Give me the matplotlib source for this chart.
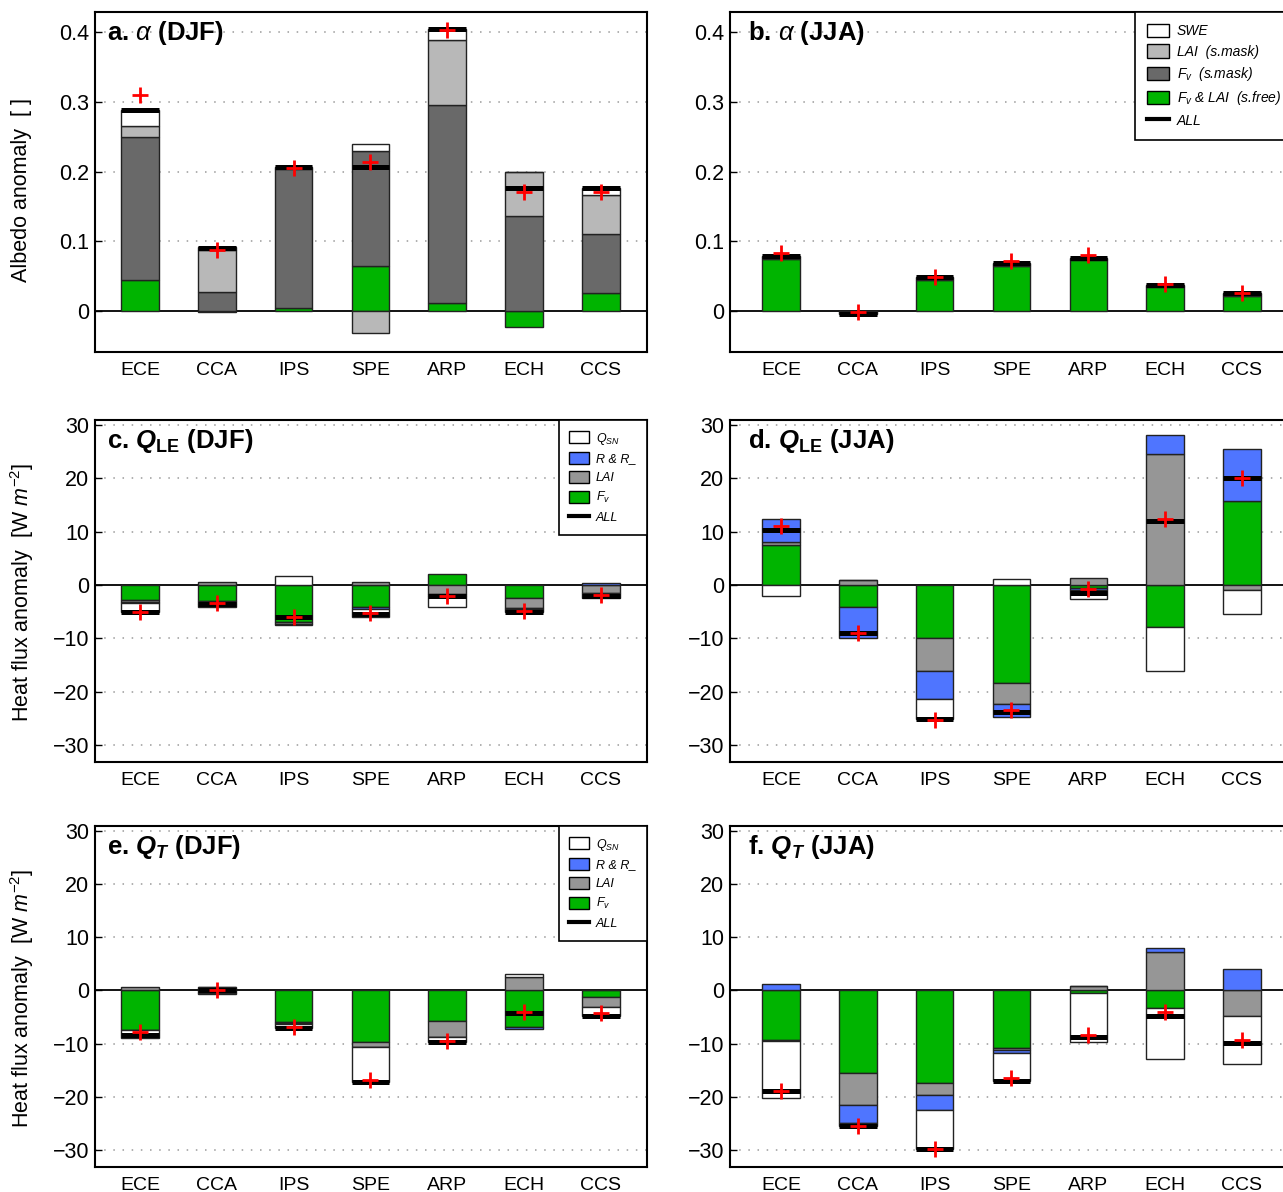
import numpy as np
import matplotlib
matplotlib.use('Agg')
import matplotlib.pyplot as plt
from matplotlib.patches import Patch
from matplotlib.lines import Line2D

plt.rcParams['font.family'] = ['Liberation Sans', 'DejaVu Sans']
plt.rcParams['mathtext.fontset'] = 'custom'
plt.rcParams['mathtext.rm'] = 'Liberation Sans'
plt.rcParams['mathtext.it'] = 'Liberation Sans:italic'
plt.rcParams['mathtext.bf'] = 'Liberation Sans:bold'
plt.rcParams['mathtext.bfit'] = 'Liberation Sans:bold:italic'

models = ['ECE', 'CCA', 'IPS', 'SPE', 'ARP', 'ECH', 'CCS']

# albedo, DJF  (stack order: Fv&LAI s.free, Fv s.mask, LAI s.mask, SWE)
alb_free_djf = [0.045, -0.001, 0.004, 0.064, 0.012, -0.023, 0.026]
alb_fv_djf = [0.205, 0.027, 0.200, 0.165, 0.283, 0.136, 0.085]
alb_lai_djf = [0.015, 0.061, 0.002, -0.032, 0.094, 0.064, 0.055]
alb_swe_djf = [0.024, 0.003, 0.000, 0.010, 0.015, 0.000, 0.010]
alb_model_djf = [0.310, 0.088, 0.205, 0.214, 0.403, 0.170, 0.170]

# albedo, JJA
alb_free_jja = [0.075, -0.002, 0.045, 0.064, 0.073, 0.034, 0.022]
alb_fv_jja = [0.002, -0.001, 0.002, 0.002, 0.002, 0.002, 0.002]
alb_lai_jja = [0.001, -0.001, 0.001, 0.002, 0.001, 0.001, 0.001]
alb_swe_jja = [0.001, 0.000, 0.001, 0.001, 0.000, 0.000, 0.000]
alb_model_jja = [0.083, -0.002, 0.049, 0.071, 0.080, 0.039, 0.026]

# latent heat, DJF  (stack order: Fv, LAI, R & R_, QSN)
qle_fv_djf = [-2.8, -3.0, -7.0, -4.1, 2.0, -2.4, -0.1]
qle_lai_djf = [-0.4, 0.6, -0.3, 0.6, -1.7, -2.0, -1.5]
qle_r_djf = [-0.2, -0.6, -0.3, -0.4, -0.3, -0.2, 0.3]
qle_qsn_djf = [-1.6, -0.6, 1.6, -1.5, -2.1, -0.4, -0.8]
qle_model_djf = [-5.0, -3.45, -6.1, -5.3, -2.0, -4.9, -1.9]

# latent heat, JJA
qle_fv_jja = [7.5, -4.1, -10.0, -18.3, -0.5, -7.9, 15.8]
qle_lai_jja = [0.5, 1.0, -6.1, -4.1, 1.25, 24.6, -0.9]
qle_r_jja = [4.4, -5.9, -5.3, -2.4, -0.4, 3.5, 9.7]
qle_qsn_jja = [-2.1, 0.0, -3.7, 1.05, -1.8, -8.2, -4.6]
qle_model_jja = [11.1, -9.05, -25.4, -23.4, -0.75, 12.4, 20.1]

# transpiration, DJF
qt_fv_djf = [-7.4, -0.4, -5.9, -9.75, -5.8, -6.9, -1.25]
qt_lai_djf = [0.6, 0.6, -0.2, -0.85, -2.95, 2.5, -1.95]
qt_r_djf = [-0.1, 0.0, -0.2, -0.1, -0.1, -0.4, 0.0]
qt_qsn_djf = [-1.4, -0.2, -0.8, -6.5, -0.9, 0.6, -1.6]
qt_model_djf = [-7.9, 0.1, -6.9, -16.9, -9.6, -4.1, -4.25]

# transpiration, JJA
qt_fv_jja = [-9.4, -15.5, -17.4, -10.8, -0.55, -3.3, 0.0]
qt_lai_jja = [-0.2, -6.1, -2.2, -0.45, 0.9, 7.3, -4.9]
qt_r_jja = [1.25, -3.4, -2.9, -0.5, 0.0, 0.7, 4.0]
qt_qsn_jja = [-10.6, -0.5, -7.4, -5.25, -9.2, -9.6, -8.9]
qt_model_jja = [-18.9, -25.5, -29.9, -16.4, -8.3, -4.06, -9.25]

GREEN = '#00b400'
DARK = '#696969'
LIGHT = '#b8b8b8'
MID = '#969696'
BLUE = '#4f75ff'
WHITE = '#ffffff'

alb_colors = [GREEN, DARK, LIGHT, WHITE]
heat_colors = [GREEN, MID, BLUE, WHITE]
W = 0.49


def draw_panel(ax, parts, colors, model, ylim, xlim, yticks, yticklabels, title, tx):
    x = np.arange(1, len(models) + 1)
    pos = np.zeros(len(models))
    neg = np.zeros(len(models))
    for vals, col in zip(parts, colors):
        vals = np.asarray(vals, dtype=float)
        bottom = np.where(vals >= 0, pos, neg)
        ax.bar(x, vals, width=W, bottom=bottom, color=col,
               edgecolor='#222222', linewidth=1.0, zorder=3)
        pos += np.clip(vals, 0, None)
        neg += np.clip(vals, None, 0)
    # ALL = sum of the single-factor contributions
    total = np.sum(np.asarray(parts, dtype=float), axis=0)
    ax.hlines(total, x - W / 2, x + W / 2, colors='k', lw=3.6, zorder=4)
    ax.plot(x, model, '+', color='red', ms=11, mew=2, zorder=5)
    ax.axhline(0, color='k', lw=1.3, zorder=2.5)

    ax.set_xlim(*xlim)
    ax.set_ylim(*ylim)
    ax.set_xticks(x)
    ax.set_xticklabels(models, fontsize=14)
    ax.set_yticks(yticks)
    ax.set_yticklabels(yticklabels, fontsize=15.5)
    ax.tick_params(axis='x', length=0, pad=7)
    ax.tick_params(axis='y', direction='in', length=5, width=1, pad=4)
    for t in yticks:
        if t != 0:
            ax.axhline(t, color='#9a9a9a', lw=1.1, ls=(0, (1, 5)), zorder=1)
    for s in ax.spines.values():
        s.set_linewidth(1.5)
    ax.text(tx, 0.917, title, transform=ax.transAxes, fontsize=18.5,
            fontweight='bold', va='baseline', ha='left', zorder=6)


fig = plt.figure(figsize=(12.83, 11.92), dpi=100)
FW, FH = 1283.0, 1192.0


def make_axes(left, right, top, bottom):
    return fig.add_axes([left / FW, 1 - bottom / FH, (right - left) / FW, (bottom - top) / FH])


ax_a = make_axes(95, 647, 12, 352)
ax_b = make_axes(730, 1293, 12, 352)
ax_c = make_axes(95, 647, 420, 762)
ax_d = make_axes(730, 1293, 420, 762)
ax_e = make_axes(95, 647, 826, 1167)
ax_f = make_axes(730, 1293, 826, 1167)

xl_left = (0.414, 7.6)
xl_right = (0.336, 7.664)
alb_ticks = [0, 0.1, 0.2, 0.3, 0.4]
alb_labels = ['0', '0.1', '0.2', '0.3', '0.4']
heat_ticks = [-30, -20, -10, 0, 10, 20, 30]
heat_labels = ['\u221230', '\u221220', '\u221210', '0', '10', '20', '30']
alb_ylim = (-0.059, 0.429)
heat_ylim = (-33.2, 30.9)

draw_panel(ax_a, [alb_free_djf, alb_fv_djf, alb_lai_djf, alb_swe_djf], alb_colors,
           alb_model_djf, alb_ylim, xl_left, alb_ticks, alb_labels,
           r'a. $\alpha$ (DJF)', 0.022)
draw_panel(ax_b, [alb_free_jja, alb_fv_jja, alb_lai_jja, alb_swe_jja], alb_colors,
           alb_model_jja, alb_ylim, xl_right, alb_ticks, alb_labels,
           r'b. $\alpha$ (JJA)', 0.032)
draw_panel(ax_c, [qle_fv_djf, qle_lai_djf, qle_r_djf, qle_qsn_djf], heat_colors,
           qle_model_djf, heat_ylim, xl_left, heat_ticks, heat_labels,
           r'c. $\mathbfit{Q}_{\mathbf{LE}}$ (DJF)', 0.022)
draw_panel(ax_d, [qle_fv_jja, qle_lai_jja, qle_r_jja, qle_qsn_jja], heat_colors,
           qle_model_jja, heat_ylim, xl_right, heat_ticks, heat_labels,
           r'd. $\mathbfit{Q}_{\mathbf{LE}}$ (JJA)', 0.032)
draw_panel(ax_e, [qt_fv_djf, qt_lai_djf, qt_r_djf, qt_qsn_djf], heat_colors,
           qt_model_djf, heat_ylim, xl_left, heat_ticks, heat_labels,
           r'e. $\mathbfit{Q}_{\mathbfit{T}}$ (DJF)', 0.022)
draw_panel(ax_f, [qt_fv_jja, qt_lai_jja, qt_r_jja, qt_qsn_jja], heat_colors,
           qt_model_jja, heat_ylim, xl_right, heat_ticks, heat_labels,
           r'f. $\mathbfit{Q}_{\mathbfit{T}}$ (JJA)', 0.032)

# y labels on the left column
fig.text(22 / FW, 1 - 190 / FH, 'Albedo anomaly  [ ]', rotation=90,
         ha='center', va='center', fontsize=15.5)
for yc in (592, 998):
    fig.text(22 / FW, 1 - yc / FH, r'Heat flux anomaly  [W $m^{-2}$]', rotation=90,
             ha='center', va='center', fontsize=15.5)


def legend_box(ax, labels, colors, size, spacing):
    handles = [Patch(facecolor=c, edgecolor='k', linewidth=1.0) for c in colors]
    handles.append(Line2D([0], [0], color='k', lw=3))
    leg = ax.legend(handles, labels + ['ALL'], loc='upper right', borderaxespad=0,
                    fancybox=False, framealpha=1, edgecolor='k',
                    prop={'style': 'italic', 'size': size}, handlelength=1.6,
                    handleheight=1.1, labelspacing=spacing, borderpad=0.85,
                    handletextpad=0.55)
    leg.get_frame().set_linewidth(1.2)
    leg.set_zorder(10)


legend_box(ax_b, ['SWE', 'LAI  (s.mask)', r'$F_v$  (s.mask)', r'$F_v$ & LAI  (s.free)'],
           [WHITE, LIGHT, DARK, GREEN], 10, 0.45)
legend_box(ax_c, [r'$Q_{SN}$', 'R & R_', 'LAI', r'$F_v$'], [WHITE, BLUE, MID, GREEN], 9, 0.45)
legend_box(ax_e, [r'$Q_{SN}$', 'R & R_', 'LAI', r'$F_v$'], [WHITE, BLUE, MID, GREEN], 9, 0.45)

fig.savefig('out.png', dpi=100)
